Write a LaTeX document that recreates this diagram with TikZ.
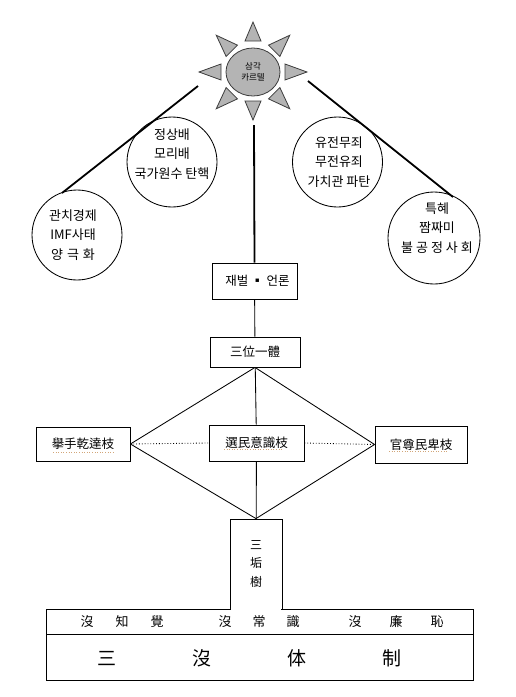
\documentclass[tikz,border=0pt]{standalone}
\usepackage{fontspec}
\setmainfont{Noto Sans CJK KR}
\usetikzlibrary{calc,shapes.geometric}
\definecolor{Sun}{HTML}{B4B4B4}
\definecolor{SunLine}{HTML}{3C3C3C}
\tikzset{
  ball/.style={draw,circle,minimum size=90pt,inner sep=0pt},
  balltext/.style={align=center,inner sep=0pt,font=\fontsize{13}{19.5}\selectfont},
  tag/.style={draw,inner sep=0pt,font=\fontsize{12.5}{14}\selectfont},
  heavy/.style={line width=1.8pt},
  ray/.style={draw=SunLine,fill=Sun,line width=0.8pt},
  squiggle/.style={draw=brown!70,dotted,line width=0.6pt}
}

\begin{document}
\begin{tikzpicture}[x=1pt,y=-1pt,line width=0.85pt]
    \useasboundingbox (0,0) rectangle (516,697);
    % sun
    \node[draw=SunLine,fill=Sun,ellipse,line width=0.8pt,minimum width=54pt,minimum height=48pt,inner sep=0pt,align=center,
          font=\fontsize{8.5}{10.5}\selectfont] (sun) at (253,72) {삼각\\카르텔};
    \foreach \ang/\base/\tip in {0/32/54,45/30/52,90/31/50,135/30/52,180/32/54,225/30/52,270/29/48,315/30/52}
      \path[ray,rotate around={\ang:(sun.center)}]
        ($(sun.center)+(\base,-8)$) -- ($(sun.center)+(\tip,0)$) -- ($(sun.center)+(\base,8)$) -- cycle;

    % circles
    \node[ball] (politics) at (172,162) {};
    \node[ball] (economy) at (77,235) {};
    \node[ball] (values) at (337.5,162) {};
    \node[ball,minimum size=92pt] (society) at (434,238) {};
    \node[balltext] (politicsText) at (172,154) {정상배\\모리배\\국가원수 탄핵};
    \node[balltext] (economyText) at (73,235) {관치경제\\IMF사태\\양\hspace{4pt}극\hspace{4pt}화};
    \node[balltext] (valuesText) at (339,162) {유전무죄\\무전유죄\\가치관 파탄};
    \node[balltext] (societyText) at (437,228) {특혜\\짬짜미\\불\hspace{3pt}공\hspace{3pt}정\hspace{3pt}사\hspace{3pt}회};

    % heavy lines
    \coordinate (sunL) at (198,86);
    \coordinate (sunC) at (254,125);
    \coordinate (sunR) at (308,81);
    \coordinate (tipL) at (62,193);
    \coordinate (tipR) at (453,197);

    % boxes
    \node[tag,minimum width=85pt,minimum height=36pt] (chaebol) at (254.5,281) {\hspace{6pt}재벌 ▪ 언론};
    \node[tag,minimum width=90pt,minimum height=30pt] (trinity) at (255,352) {三位一體};
    \node[tag,minimum width=94pt,minimum height=34pt] (geonso) at (83,444) {擧手乾達枝};
    \node[tag,minimum width=95pt,minimum height=36pt] (seonmin) at (256.5,443) {選民意識枝};
    \node[tag,minimum width=92pt,minimum height=37pt] (gwanjon) at (421,444.5) {官尊民卑枝};

    \draw[heavy] (sunL) -- (tipL);
    \draw[heavy] (sunR) -- (tipR);
    \draw[heavy] (sunC) -- (chaebol.north);

    % bottom block
    \draw (46,609) rectangle (473,680);
    \draw (46,634) -- (473,634);
    \node[draw,fill=white,minimum width=52pt,minimum height=90pt,inner sep=0pt,align=center,
          font=\fontsize{12}{18.5}\selectfont] (tree) at (256,564) {三\\垢\\樹};
    \draw[white,line width=1.2pt] (230.6,609) -- (281.4,609);

    % connectors
    \draw (chaebol) -- (trinity);
    \draw (trinity) -- (seonmin);
    \draw (seonmin) -- (tree);
    \draw (trinity.south) -- (geonso.east);
    \draw (trinity.south) -- (gwanjon.west);
    \draw (geonso.east) -- (tree.north);
    \draw (gwanjon.west) -- (tree.north);
    \draw[dotted] (geonso.east) -- (seonmin.west);
    \draw[dotted] (seonmin.east) -- (gwanjon.west);

    % spell-check marks
    \draw[squiggle] (53,452) -- (115,452);
    \draw[squiggle] (224,449) -- (283,449);
    \draw[squiggle] (389,451) -- (447,451);

    % texts of the block
    \foreach \xx/\cc [count=\ii] in {87/沒,122/知,157/覺,225/沒,259/常,293/識,355/沒,396/廉,437/恥}
      \node[font=\fontsize{13}{14}\selectfont] (upper\ii) at (\xx,622) {\cc};
    \foreach \xx/\cc [count=\ii] in {107/三,202/沒,297/体,392/制}
      \node[font=\fontsize{19}{20}\selectfont] (lower\ii) at (\xx,658) {\cc};
\end{tikzpicture}
\end{document}
